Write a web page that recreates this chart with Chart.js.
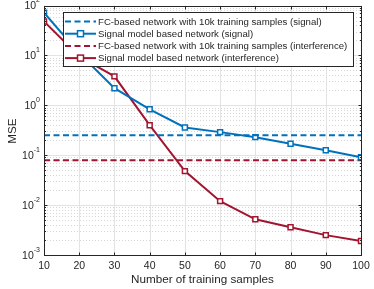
<!DOCTYPE html>
<html>
<head>
<meta charset="utf-8">
<script src="https://cdn.jsdelivr.net/npm/chart.js@4.4.1/dist/chart.umd.min.js"></script>
<style>
  html, body { margin: 0; padding: 0; background: #fff; }
  #wrap { width: 374px; height: 289px; position: relative; }
</style>
</head>
<body>
<div id="wrap"><canvas id="mseChart"></canvas></div>
<script>
// training sample counts (x axis)
const samples = [10, 20, 30, 40, 50, 60, 70, 80, 90, 100];
// signal model based network, signal
const signalMse = [72, 11, 2.2, 0.83, 0.36, 0.29, 0.23, 0.17, 0.126, 0.091];
// signal model based network, interference
const interfMse = [48, 9.5, 3.8, 0.4, 0.048, 0.012, 0.0052, 0.0036, 0.0025, 0.0019];
// FC-based network baselines (10k samples)
const fcSignal = 0.25;
const fcInterf = 0.079;
const yTicks = [-3, -2, -1, 0, 1, 2];
const xTicks = [10, 20, 30, 40, 50, 60, 70, 80, 90, 100];
const legendLabels = [
  'FC-based network with 10k training samples (signal)',
  'Signal model based network (signal)',
  'FC-based network with 10k training samples (interference)',
  'Signal model based network (interference)'
];

const blue = '#0072BD';
const red = '#A2142F';
const fontFam = '"Liberation Sans", Arial, sans-serif';

const toPts = (ys) => samples.map((x, i) => ({ x, y: ys[i] }));
const flat = (v) => [{ x: samples[0], y: v }, { x: samples[samples.length - 1], y: v }];

const matlabFrame = {
  id: 'matlabFrame',
  beforeDatasetsDraw(chart) {
    const { ctx, chartArea: a, scales: { x, y } } = chart;
    ctx.save();
    ctx.lineWidth = 1;
    // minor y grid (dotted)
    ctx.strokeStyle = '#d6d6d6';
    ctx.setLineDash([1, 2]);
    for (let e = -3; e < 2; e++) {
      for (let m = 2; m <= 9; m++) {
        const py = Math.round(y.getPixelForValue(m * Math.pow(10, e))) + 0.5;
        ctx.beginPath(); ctx.moveTo(a.left, py); ctx.lineTo(a.right, py); ctx.stroke();
      }
    }
    // major grid
    ctx.setLineDash([]);
    ctx.strokeStyle = '#e3e3e3';
    yTicks.forEach(e => {
      const py = Math.round(y.getPixelForValue(Math.pow(10, e))) + 0.5;
      ctx.beginPath(); ctx.moveTo(a.left, py); ctx.lineTo(a.right, py); ctx.stroke();
    });
    xTicks.forEach(v => {
      const px = Math.round(x.getPixelForValue(v)) + 0.5;
      ctx.beginPath(); ctx.moveTo(px, a.top); ctx.lineTo(px, a.bottom); ctx.stroke();
    });
    ctx.restore();
  },
  afterDatasetsDraw(chart) {
    const { ctx, chartArea: a, scales: { x, y } } = chart;
    ctx.save();
    ctx.strokeStyle = '#262626';
    ctx.lineWidth = 1;
    const L = Math.round(a.left) + 0.5, R = Math.round(a.right) + 0.5;
    const T = Math.round(a.top) + 0.5, B = Math.round(a.bottom) + 0.5;
    ctx.strokeRect(L, T, R - L, B - T);
    ctx.beginPath();
    xTicks.forEach(v => {
      const px = Math.round(x.getPixelForValue(v)) + 0.5;
      ctx.moveTo(px, B); ctx.lineTo(px, B - 3);
      ctx.moveTo(px, T); ctx.lineTo(px, T + 3);
    });
    yTicks.forEach(e => {
      const py = Math.round(y.getPixelForValue(Math.pow(10, e))) + 0.5;
      ctx.moveTo(L, py); ctx.lineTo(L + 3, py);
      ctx.moveTo(R, py); ctx.lineTo(R - 3, py);
    });
    for (let e = -3; e < 2; e++) {
      for (let m = 2; m <= 9; m++) {
        const py = Math.round(y.getPixelForValue(m * Math.pow(10, e))) + 0.5;
        ctx.moveTo(L, py); ctx.lineTo(L + 1.5, py);
        ctx.moveTo(R, py); ctx.lineTo(R - 1.5, py);
      }
    }
    ctx.stroke();

    ctx.fillStyle = '#262626';
    ctx.textBaseline = 'middle';
    // x tick labels
    ctx.font = '10.5px ' + fontFam;
    ctx.textAlign = 'center';
    xTicks.forEach(v => ctx.fillText(String(v), x.getPixelForValue(v), 266));
    // x title
    ctx.font = '11.7px ' + fontFam;
    ctx.fillText('Number of training samples', (a.left + a.right) / 2, 279.5);

    // y tick labels with superscripts
    yTicks.forEach(e => {
      const py = y.getPixelForValue(Math.pow(10, e));
      const exp = String(e);
      ctx.font = '7px ' + fontFam;
      const ew = ctx.measureText(exp).width;
      ctx.textAlign = 'left';
      ctx.fillText(exp, 40 - ew, py - 5);
      ctx.font = '10.5px ' + fontFam;
      ctx.textAlign = 'right';
      ctx.fillText('10', 40 - ew, py + 1);
    });
    // y title
    ctx.save();
    ctx.translate(13, 131);
    ctx.rotate(-Math.PI / 2);
    ctx.textAlign = 'center';
    ctx.font = '11.7px ' + fontFam;
    ctx.fillText('MSE', 0, 0);
    ctx.restore();

    // legend
    const lx = 63.5, ly = 12.5, lw = 290, lh = 54;
    ctx.fillStyle = '#fff';
    ctx.fillRect(lx, ly, lw, lh);
    ctx.strokeStyle = '#262626';
    ctx.strokeRect(lx, ly, lw, lh);
    // fit the longest label into the same span as the reference box
    ctx.font = '10px ' + fontFam;
    const longest = Math.max(...legendLabels.map(t => ctx.measureText(t).width));
    const legFont = Math.min(11, 10 * 250 / longest);
    const styles = [
      { c: blue, dash: true }, { c: blue, dash: false },
      { c: red, dash: true }, { c: red, dash: false }
    ];
    styles.forEach((s, i) => {
      const cy = 21.5 + i * 12.2;
      ctx.strokeStyle = s.c;
      ctx.lineWidth = 2;
      ctx.setLineDash(s.dash ? [6, 3.5] : []);
      ctx.beginPath(); ctx.moveTo(65, cy); ctx.lineTo(96, cy); ctx.stroke();
      ctx.setLineDash([]);
      if (!s.dash) {
        ctx.lineWidth = 1.5;
        ctx.fillStyle = '#fff';
        ctx.fillRect(77.5, cy - 3, 6, 6);
        ctx.strokeRect(77.5, cy - 3, 6, 6);
      }
      ctx.fillStyle = '#262626';
      ctx.font = legFont.toFixed(2) + 'px ' + fontFam;
      ctx.textAlign = 'left';
      ctx.fillText(legendLabels[i], 98, cy + 0.5);
    });
    ctx.restore();
  }
};

const lineSet = (label, data, color, dashed) => ({
  label,
  data,
  borderColor: color,
  backgroundColor: '#fff',
  borderWidth: 2,
  borderDash: dashed ? [6, 3.5] : [],
  pointStyle: 'rect',
  pointRadius: dashed ? 0 : 3.5,
  pointBorderWidth: 1.5,
  pointBackgroundColor: '#fff',
  tension: 0
});

new Chart(document.getElementById('mseChart'), {
  type: 'line',
  data: {
    datasets: [
      lineSet(legendLabels[0], flat(fcSignal), blue, true),
      lineSet(legendLabels[1], toPts(signalMse), blue, false),
      lineSet(legendLabels[2], flat(fcInterf), red, true),
      lineSet(legendLabels[3], toPts(interfMse), red, false)
    ]
  },
  options: {
    responsive: true,
    maintainAspectRatio: false,
    animation: false,
    layout: { padding: { top: 5, right: 13, left: 0, bottom: 0 } },
    plugins: { legend: { display: false }, tooltip: { enabled: false } },
    scales: {
      x: {
        type: 'linear',
        min: 10, max: 100,
        grid: { display: false },
        border: { display: false },
        ticks: { display: false, stepSize: 10 },
        afterFit: s => { s.height = 34; }
      },
      y: {
        type: 'logarithmic',
        min: 1e-3, max: 1e2,
        grid: { display: false },
        border: { display: false },
        ticks: { display: false },
        afterFit: s => { s.width = 44; }
      }
    }
  },
  plugins: [matlabFrame]
});
</script>
</body>
</html>
